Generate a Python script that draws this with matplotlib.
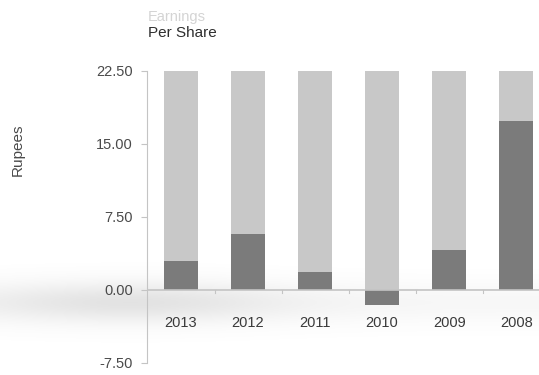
import numpy as np
import matplotlib.pyplot as plt

# Earnings per share, in rupees
years = ['2013', '2012', '2011', '2010', '2009', '2008']
eps = [3.0, 5.8, 1.8, -1.5, 4.1, 17.4]
y_ticks = [-7.5, 0.0, 7.5, 15.0, 22.5]
y_max = 22.5

plt.rcParams['font.family'] = ['Liberation Sans', 'DejaVu Sans']

fig = plt.figure(figsize=(5.39, 3.75), dpi=100)
ax = fig.add_axes([0.2727, 0.032, 0.7273, 0.7787])

x = np.arange(len(years))
w = 0.51
# full-height track behind each bar
ax.bar(x, [y_max] * len(years), width=w, color='#c8c8c8', zorder=1)
ax.bar(x, eps, width=w, color='#7b7b7b', zorder=2)

ax.axhline(0, color='#c4c4c4', lw=1.2, zorder=3)
for xi in x[:-1] + 0.5:
    ax.plot([xi, xi], [0, -0.35], color='#c4c4c4', lw=0.8, zorder=3)

ax.set_xlim(-0.507, 5.34)
ax.set_ylim(-7.5, 22.5)
ax.set_yticks(y_ticks)
ax.set_yticklabels([f'{v:.2f}' for v in y_ticks], fontsize=10.5, color='#4a4a4a')
ax.tick_params(axis='y', length=4, color='#c4c4c4', pad=6)
ax.set_xticks([])
for s in ['top', 'right', 'bottom']:
    ax.spines[s].set_visible(False)
ax.spines['left'].set_color('#c4c4c4')
ax.set_facecolor('none')

for xi, lab in zip(x, years):
    ax.annotate(lab, (xi, 0), xytext=(0, -33), textcoords='offset pixels',
                ha='center', va='center', fontsize=10.5, color='#3a3a3a')

fig.text(18 / 539, 1 - 150 / 375, 'Rupees', rotation=90, ha='center', va='center',
         fontsize=11, color='#4a4a4a')
fig.text(148 / 539, 1 - 17 / 375, 'Earnings', ha='left', va='center',
         fontsize=10.5, color='#d4d4d4')
fig.text(148 / 539, 1 - 33 / 375, 'Per Share', ha='left', va='center',
         fontsize=11, color='#2e2e2e')

# soft grey smudge along the zero line
yy, xx = np.mgrid[0:375, 0:539]
haze = np.exp(-((yy - 302) / 20.0) ** 2) * (0.16 * np.exp(-((xx - 130) / 150.0) ** 2) + 0.06)
bg = fig.add_axes([0, 0, 1, 1], zorder=-1)
bg.imshow(np.dstack([np.full_like(haze, 0.5)] * 3 + [haze]), aspect='auto',
          extent=[0, 539, 375, 0])
bg.axis('off')

fig.savefig('out.png', dpi=100)
